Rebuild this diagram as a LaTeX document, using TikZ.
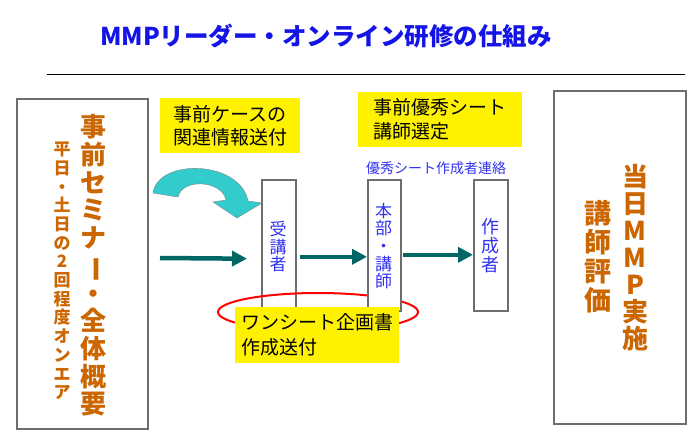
\documentclass[tikz,border=0pt]{standalone}
\usepackage{fontspec}
\setmainfont{Noto Sans CJK JP}
\usetikzlibrary{arrows.meta}
\definecolor{titleblue}{RGB}{20,20,230}
\definecolor{seminarorange}{RGB}{204,102,0}
\definecolor{flowteal}{RGB}{0,102,102}
\definecolor{curveteal}{RGB}{51,204,204}
\definecolor{roleblue}{RGB}{50,50,240}
\definecolor{boxgray}{RGB}{110,110,110}
\newcommand{\tatebo}{\rotatebox[origin=c]{-90}{ー}}

\begin{document}
\begin{tikzpicture}[x=1pt,y=-1pt,
  colbox/.style={draw=boxgray,line width=1.6pt,fill=white,inner sep=0pt,anchor=north west},
  ybox/.style={fill=yellow,anchor=north west,align=left,inner xsep=6pt,inner ysep=0pt},
  flow/.style={draw=flowteal,line width=4.5pt,-{Triangle[length=15pt,width=15pt]}},
  role/.style={text=roleblue,align=center,inner sep=0pt,font=\fontsize{17}{17.7}\selectfont},
  vcol/.style={text=seminarorange,align=center,inner sep=0pt}]
\useasboundingbox (0,0) rectangle (700,437);

% Titel
\node[text=titleblue,font=\fontsize{24.5}{24.5}\selectfont\bfseries] (title) at (326,36) {MMPリーダー・オンライン研修の仕組み};
\draw[line width=0.8pt] (47,74) -- (685,74);

% Seminar links
\node[colbox,minimum width=131pt,minimum height=330pt] (seminar) at (16,98) {};
\node[vcol,font=\fontsize{26}{27.7}\selectfont\bfseries] (seminartext) at (93,265.5)
  {事\\前\\セ\\ミ\\ナ\\\tatebo\\・\\全\\体\\概\\要};
\node[vcol,font=\fontsize{17}{18.7}\selectfont\bfseries] (onair) at (62,271)
  {平\\日\\・\\土\\日\\の\\2\\回\\程\\度\\オ\\ン\\エ\\ア};

% MMP rechts
\node[colbox,minimum width=132pt,minimum height=333pt] (tojitsu) at (553,90) {};
\node[vcol,font=\fontsize{26}{27}\selectfont\bfseries] (mmp) at (635,257.5)
  {当\\日\\M\\M\\P\\実\\施};
\node[vcol,font=\fontsize{27}{29}\selectfont\bfseries] (hyoka) at (598,256.5)
  {講\\師\\評\\価};

% Hinweise
\node[ybox,minimum width=140pt,minimum height=55pt,font=\fontsize{19}{23}\selectfont] (case) at (160,98)
  {事前ケースの\\関連情報送付};
\node[ybox,minimum width=164pt,minimum height=55pt,font=\fontsize{19}{24}\selectfont] (sentei) at (358,92)
  {事前優秀シート\\講師選定};
\node[text=roleblue,font=\fontsize{14}{14}\selectfont] (renraku) at (436,168) {優秀シート作成者連絡};

% Gebogener Pfeil
\filldraw[fill=curveteal,draw=gray,line width=0.4pt]
  (153,193) .. controls (158,158) and (240,160) .. (248,201)
  -- (262,203) -- (237,218) -- (213,202) -- (226,200)
  .. controls (222,180) and (182,178) .. (178,197) -- cycle;

% Rollen
\node[colbox,minimum width=34pt,minimum height=131pt] (jukosha) at (261,179) {};
\node[role] (jukoshatext) at (278,246.5) {受\\講\\者};
\draw[red,line width=2pt] (318,312) ellipse [x radius=100pt,y radius=19pt];
\node[colbox,minimum width=33pt,minimum height=131pt] (honbu) at (367,179) {};
\node[role] (honbutext) at (383.5,246) {本\\部\\・\\講\\師};
\node[colbox,minimum width=34pt,minimum height=131pt] (sakusei) at (473,179) {};
\node[role,font=\fontsize{18}{19}\selectfont] (sakuseitext) at (490,246) {作\\成\\者};

\node[ybox,minimum width=163pt,minimum height=56pt,font=\fontsize{19}{25}\selectfont] (kikaku) at (235,307)
  {ワンシート企画書\\作成送付};

% Pfeile
\coordinate (start) at (160,258);
\draw[flow,shorten >=14pt] (start) -- ([yshift=-13.5pt]jukosha.west);
\draw[flow,shorten <=3pt] ([yshift=-11.5pt]jukosha.east) -- ([yshift=-11.5pt]honbu.west);
\draw[flow,shorten <=1pt] ([yshift=-9.5pt]honbu.east) -- ([yshift=-9.5pt]sakusei.west);
\end{tikzpicture}
\end{document}
